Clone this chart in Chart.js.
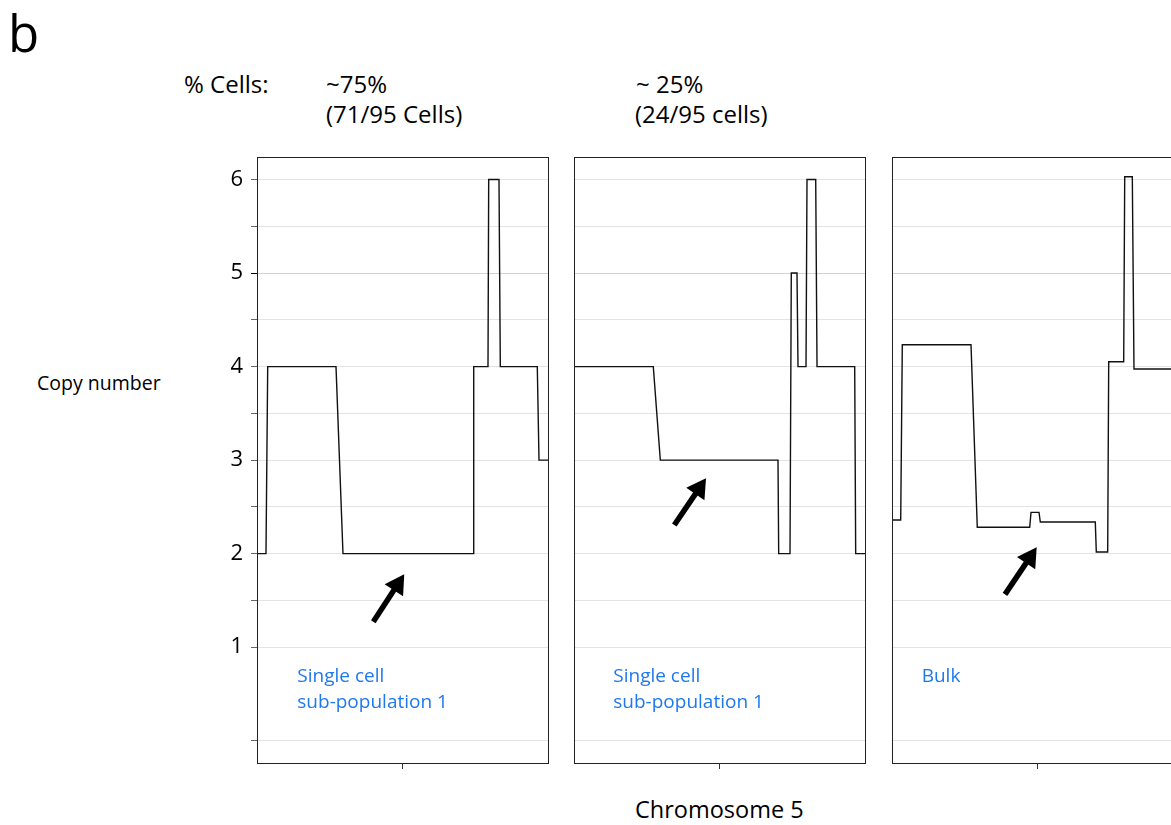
<!DOCTYPE html>
<html>
<head>
<meta charset="utf-8">
<script src="https://cdn.jsdelivr.net/npm/chart.js@4.4.1/dist/chart.umd.min.js"></script>
<style>
  html, body { margin: 0; padding: 0; background: #fff; }
  body { position: relative; width: 1171px; height: 825px; overflow: hidden; font-family: 'Open Sans', sans-serif; color: #000; }
  .t { position: absolute; white-space: nowrap; line-height: 1; }
  canvas { position: absolute; }
</style>
</head>
<body>
<div class="t" style="left:8px; top:7px; font-size:51px;">b</div>
<div class="t" style="left:184px; top:72px; font-size:24px;">% Cells:</div>
<div class="t" style="left:326px; top:72px; font-size:24px;">~75%</div>
<div class="t" style="left:326px; top:102px; font-size:24px;">(71/95 Cells)</div>
<div class="t" style="left:636px; top:72px; font-size:24px;">~ 25%</div>
<div class="t" style="left:635px; top:102px; font-size:24px;">(24/95 cells)</div>
<div class="t" style="left:37px; top:373px; font-size:19.5px;">Copy number</div>
<div class="t" style="left:635px; top:798px; font-size:23.5px;">Chromosome 5</div>

<canvas id="panelSub1" width="352" height="658" style="left:200px; top:131px;"></canvas>
<canvas id="panelSub2" width="299" height="658" style="left:570px; top:131px;"></canvas>
<canvas id="panelBulk" width="299" height="658" style="left:888px; top:131px;"></canvas>

<script>
// Copy-number profiles along chromosome 5 (position in % of chromosome length)
const sub1Pos  = [0, 3.09, 3.68, 27.15, 29.55, 74.23, 74.47, 79.38, 79.62, 83.16, 83.61, 96.32, 96.91, 100];
const sub1Copy = [2, 2,    4,    4,     2,     2,     4,     4,     6,     6,     4,     4,     3,     3];

const sub2Pos  = [0, 27.25, 29.66, 70.1, 70.34, 74.23, 74.67, 76.63, 76.98, 79.73, 80.07, 83.06, 83.51, 96.46, 96.8, 100];
const sub2Copy = [4, 4,     3,     3,    2,     2,     5,     5,     4,     4,     6,     6,     4,     4,     2,    2];

const bulkPos  = [0, 2.99, 3.54, 27.15, 29.31, 47.32, 47.77, 50.52, 50.96, 69.86, 70.21, 74.12, 74.47, 79.62, 79.97, 82.58, 83.16, 100];
const bulkCopy = [2.36, 2.36, 4.234, 4.234, 2.282, 2.282, 2.442, 2.442, 2.338, 2.338, 2.018, 2.018, 4.052, 4.052, 6.03, 6.03, 3.974, 3.974];

// y axis ticks (gridlines) and their labels
const copyTicks  = [0, 1, 1.5, 2, 2.5, 3, 3.5, 4, 4.5, 5, 5.5, 6];
const tickLabels = ['', '1', '', '2', '', '3', '', '4', '', '5', '', '6'];
const copyMin = -0.238, copyMax = 6.241;
const chromTick = [50];

// panel captions and arrows (tail -> tip, in data units)
const sub1Note = ['Single cell', 'sub-population 1'];
const sub2Note = ['Single cell', 'sub-population 1'];
const bulkNote = ['Bulk'];
const sub1NoteAt = [13.85, 0.628];
const sub2NoteAt = [13.5, 0.628];
const bulkNoteAt = [10.2, 0.628];
const noteLineGap = 0.275;
const sub1Arrow = [39.97, 1.272, 50.6, 1.779];
const sub2Arrow = [34.47, 2.306, 45.36, 2.806];
const bulkArrow = [38.83, 1.565, 49.73, 2.068];

const FONT = "'Open Sans', sans-serif";

const panelDecor = {
  id: 'panelDecor',
  afterDatasetsDraw(chart, args, opts) {
    const { ctx, chartArea: a, scales: { x, y } } = chart;
    ctx.save();
    // caption
    ctx.fillStyle = '#1e78f0';
    ctx.font = '19px ' + FONT;
    ctx.textAlign = 'left';
    ctx.textBaseline = 'alphabetic';
    opts.note.forEach((line, i) => {
      ctx.fillText(line, x.getPixelForValue(opts.noteAt[0]), y.getPixelForValue(opts.noteAt[1] - i * noteLineGap));
    });
    // arrow
    const [tx0, ty0, tx1, ty1] = opts.arrow;
    const x0 = x.getPixelForValue(tx0), y0 = y.getPixelForValue(ty0);
    const x1 = x.getPixelForValue(tx1), y1 = y.getPixelForValue(ty1);
    const dx = x1 - x0, dy = y1 - y0, len = Math.hypot(dx, dy);
    const ux = dx / len, uy = dy / len;
    const headLen = 19, headHalf = 11;
    const bx = x1 - ux * headLen, by = y1 - uy * headLen;
    ctx.strokeStyle = '#000';
    ctx.fillStyle = '#000';
    ctx.lineWidth = 5.5;
    ctx.lineCap = 'butt';
    ctx.beginPath();
    ctx.moveTo(x0, y0);
    ctx.lineTo(bx + ux * 2, by + uy * 2);
    ctx.stroke();
    ctx.beginPath();
    ctx.moveTo(x1, y1);
    ctx.lineTo(bx - uy * headHalf, by + ux * headHalf);
    ctx.lineTo(bx + uy * headHalf, by - ux * headHalf);
    ctx.closePath();
    ctx.fill();
    // frame
    ctx.strokeStyle = '#222';
    ctx.lineWidth = 1;
    ctx.strokeRect(Math.round(a.left) + 0.5, Math.round(a.top) + 0.5,
                   Math.round(a.right - a.left), Math.round(a.bottom - a.top));
    ctx.restore();
  }
};

function makePanel(id, pos, copy, note, noteAt, arrow, showLabels) {
  const points = pos.map((p, i) => ({ x: p, y: copy[i] }));
  return new Chart(document.getElementById(id), {
    type: 'line',
    data: {
      datasets: [{
        data: points,
        borderColor: '#111',
        borderWidth: 1.4,
        pointRadius: 0,
        tension: 0,
        fill: false
      }]
    },
    options: {
      responsive: false,
      animation: false,
      events: [],
      layout: { padding: { left: 4, right: 4, top: 26, bottom: 18 } },
      plugins: {
        legend: { display: false },
        tooltip: { enabled: false },
        panelDecor: { note, noteAt, arrow }
      },
      scales: {
        x: {
          type: 'linear', min: 0, max: 100, position: 'bottom',
          afterBuildTicks: s => { s.ticks = chromTick.map(v => ({ value: v })); },
          afterFit: s => { s.height = 8; },
          grid: { drawOnChartArea: false, drawTicks: true, tickLength: 6, tickColor: '#333', lineWidth: 1 },
          border: { display: false },
          ticks: { display: false }
        },
        y: {
          type: 'linear', min: copyMin, max: copyMax, position: 'left',
          afterBuildTicks: s => { s.ticks = copyTicks.map(v => ({ value: v })); },
          afterFit: s => { s.width = showLabels ? 53 : 0; },
          grid: {
            color: c => (c.tick && c.tick.value === 5) ? '#d2d2d2' : '#e3e3e3',
            lineWidth: 1,
            drawTicks: showLabels,
            tickLength: 6,
            tickColor: c => (c.tick && c.tick.value === 5) ? '#000' : '#666'
          },
          border: { display: false },
          ticks: {
            display: showLabels,
            autoSkip: false,
            padding: 8,
            color: '#000',
            font: { family: FONT, size: 22 },
            callback: (v, i) => tickLabels[i]
          }
        }
      }
    },
    plugins: [panelDecor]
  });
}

makePanel('panelSub1', sub1Pos, sub1Copy, sub1Note, sub1NoteAt, sub1Arrow, true);
makePanel('panelSub2', sub2Pos, sub2Copy, sub2Note, sub2NoteAt, sub2Arrow, false);
makePanel('panelBulk', bulkPos, bulkCopy, bulkNote, bulkNoteAt, bulkArrow, false);
</script>
</body>
</html>
